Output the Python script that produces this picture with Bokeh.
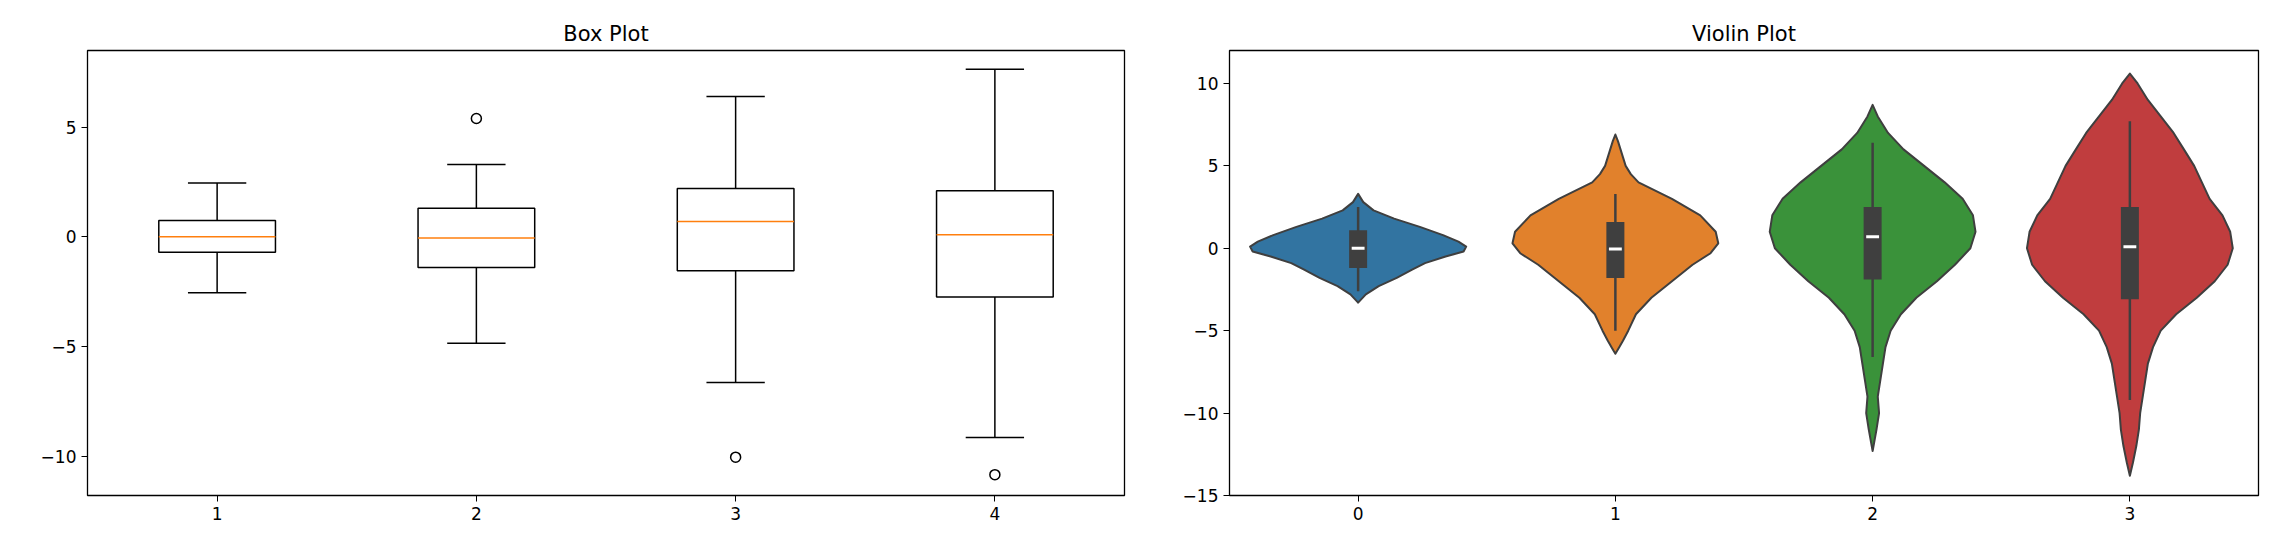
import numpy as np
from bokeh.plotting import figure
from bokeh.layouts import row
from bokeh.models import FixedTicker, Range1d
from bokeh.embed import file_html
from bokeh.resources import INLINE

# Box plot statistics
box_pos = [1, 2, 3, 4]
box_q1 = [-0.7, -1.4, -1.55, -2.75]
box_q3 = [0.75, 1.3, 2.2, 2.1]
box_med = [0.0, -0.05, 0.7, 0.1]
box_lo = [-2.55, -4.85, -6.65, -9.15]
box_hi = [2.45, 3.3, 6.4, 7.65]
out_x = [2, 3, 4]
out_y = [5.4, -10.05, -10.85]

# Violin profiles: y levels and half-widths
vy0 = [3.3, 2.8, 2.3, 1.8, 1.3, 0.8, 0.4, 0.1, -0.2, -0.5, -0.9, -1.3, -1.8, -2.3, -2.8, -3.3]
vw0 = [0.0, 0.02, 0.06, 0.14, 0.24, 0.33, 0.39, 0.42, 0.41, 0.34, 0.26, 0.21, 0.15, 0.08, 0.03, 0.0]
vy1 = [6.9, 6.5, 6.0, 5.5, 5.0, 4.5, 4.0, 3.0, 2.0, 1.0, 0.3, -0.3, -1.0, -2.0, -3.0, -4.0, -5.0, -5.6, -6.0, -6.4]
vw1 = [0.0, 0.01, 0.02, 0.03, 0.04, 0.06, 0.09, 0.22, 0.33, 0.39, 0.40, 0.37, 0.30, 0.22, 0.14, 0.08, 0.05, 0.03, 0.015, 0.0]
vy2 = [8.7, 8.0, 7.0, 6.0, 5.0, 4.0, 3.0, 2.0, 1.0, 0.0, -1.0, -2.0, -3.0, -4.0, -5.0, -6.0, -7.0, -8.0, -9.0, -10.0, -11.0, -12.3]
vw2 = [0.0, 0.02, 0.06, 0.12, 0.2, 0.28, 0.35, 0.39, 0.4, 0.38, 0.32, 0.25, 0.17, 0.11, 0.07, 0.05, 0.04, 0.03, 0.02, 0.025, 0.015, 0.0]
vy3 = [10.6, 10.0, 9.0, 8.0, 7.0, 6.0, 5.0, 4.0, 3.0, 2.0, 1.0, 0.0, -1.0, -2.0, -3.0, -4.0, -5.0, -6.0, -7.0, -8.0, -9.0, -10.0, -11.0, -12.0, -13.0, -13.8]
vw3 = [0.0, 0.03, 0.07, 0.12, 0.17, 0.21, 0.25, 0.28, 0.31, 0.36, 0.39, 0.4, 0.38, 0.33, 0.26, 0.18, 0.12, 0.09, 0.07, 0.06, 0.05, 0.04, 0.035, 0.025, 0.012, 0.0]
v_q1 = [-1.2, -1.8, -1.9, -3.1]
v_q3 = [1.1, 1.6, 2.5, 2.5]
v_med = [0.0, -0.05, 0.7, 0.1]
v_lo = [-2.6, -5.0, -6.6, -9.2]
v_hi = [2.5, 3.3, 6.4, 7.7]
v_colors = ["#3274a1", "#e1812c", "#3a923a", "#c03d3e"]

def style(p):
    p.grid.visible = False
    p.title.align = "center"
    p.title.text_font_size = "21px"
    p.title.text_font_style = "normal"
    p.title.text_font = "DejaVu Sans"
    p.title.text_color = "black"
    for ax in [p.xaxis[0], p.yaxis[0]]:
        ax.major_label_text_font_size = "17px"
        ax.major_label_text_font = "DejaVu Sans"
        ax.major_label_text_color = "black"
        ax.minor_tick_line_color = None
        ax.major_tick_in = 0
        ax.major_tick_out = 6
        ax.major_tick_line_color = "black"
        ax.axis_line_color = None
    p.outline_line_color = "black"
    p.outline_line_width = 1.3

p1 = figure(width=1132, height=540, output_backend="svg", toolbar_location=None,
            title="Box Plot", x_range=Range1d(0.5, 4.5), y_range=Range1d(-11.8, 8.5),
            min_border_left=87, min_border_right=8, min_border_top=50, min_border_bottom=45)
style(p1)
p1.xaxis.ticker = FixedTicker(ticks=[1, 2, 3, 4])
p1.yaxis.ticker = FixedTicker(ticks=[-10, -5, 0, 5])
bw = 0.45
for i in range(4):
    x = box_pos[i]
    p1.segment([x, x], [box_lo[i], box_q3[i]], [x, x], [box_q1[i], box_hi[i]], color="black", line_width=1.5)
    p1.segment([x - bw / 4, x - bw / 4], [box_lo[i], box_hi[i]], [x + bw / 4, x + bw / 4], [box_lo[i], box_hi[i]], color="black", line_width=1.5)
    p1.quad(left=x - bw / 2, right=x + bw / 2, bottom=box_q1[i], top=box_q3[i], fill_color="white", line_color="black", line_width=1.5)
    p1.segment(x - bw / 2, box_med[i], x + bw / 2, box_med[i], color="#ff7f0e", line_width=1.5)
p1.scatter(out_x, out_y, size=10, fill_color=None, line_color="black", line_width=1.5)

p2 = figure(width=1136, height=540, output_backend="svg", toolbar_location=None,
            title="Violin Plot", x_range=Range1d(-0.5, 3.5), y_range=Range1d(-15, 12),
            min_border_left=97, min_border_right=10, min_border_top=50, min_border_bottom=45)
style(p2)
p2.xaxis.ticker = FixedTicker(ticks=[0, 1, 2, 3])
p2.yaxis.ticker = FixedTicker(ticks=[-15, -10, -5, 0, 5, 10])
profiles = [(vy0, vw0), (vy1, vw1), (vy2, vw2), (vy3, vw3)]
for i, (vy, vw) in enumerate(profiles):
    vy = np.array(vy); vw = np.array(vw)
    xs = np.concatenate([i + vw, (i - vw)[::-1]])
    ys = np.concatenate([vy, vy[::-1]])
    p2.patch(xs, ys, fill_color=v_colors[i], line_color="#3f3f3f", line_width=2, line_join="round")
    p2.segment(i, v_lo[i], i, v_hi[i], color="#3f3f3f", line_width=2.5)
    p2.quad(left=i - 0.035, right=i + 0.035, bottom=v_q1[i], top=v_q3[i], fill_color="#3f3f3f", line_color=None)
    p2.segment(i - 0.025, v_med[i], i + 0.025, v_med[i], color="white", line_width=3)

open("out.html", "w").write(file_html(row(p1, p2), INLINE))
